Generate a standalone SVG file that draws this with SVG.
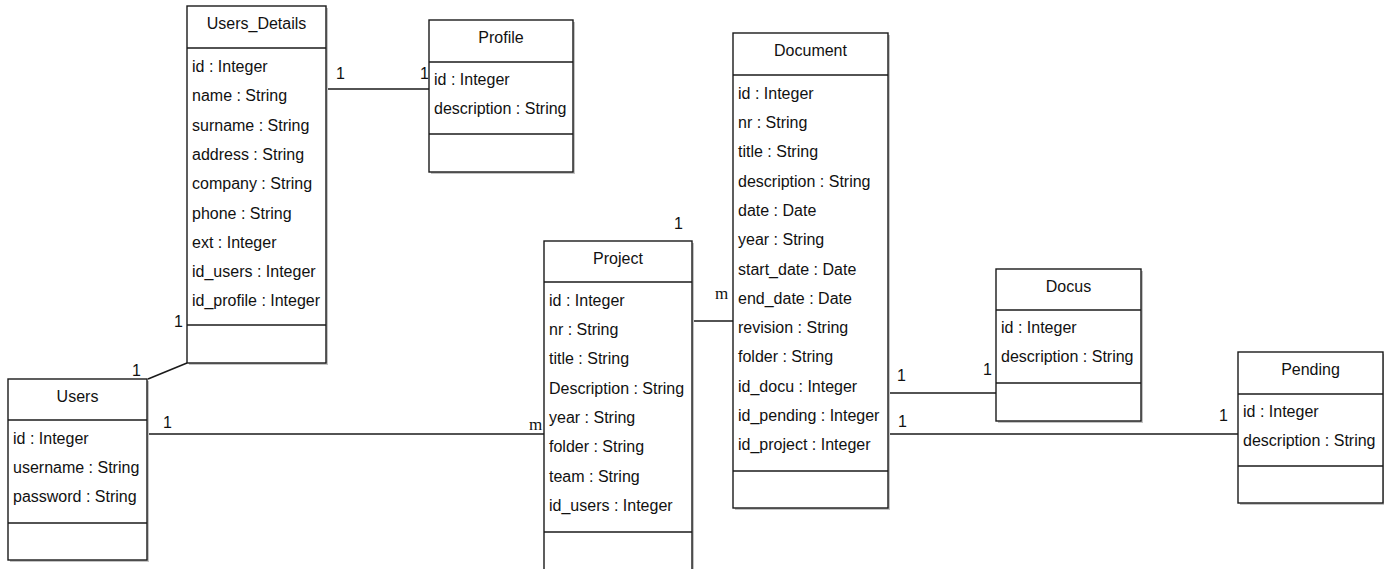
<svg xmlns="http://www.w3.org/2000/svg" width="1384" height="569" viewBox="0 0 1384 569">
  <style>
    .box { fill: #ffffff; stroke: #1a1a1a; stroke-width: 1.4; }
    .shadow { fill: #c4c4c4; }
    .sep { stroke: #1a1a1a; stroke-width: 1.4; }
    .edge { stroke: #1a1a1a; stroke-width: 1.4; fill: none; }
    text { font-family: "Liberation Sans", Arial, sans-serif; font-size: 16px; fill: #111111; }
    .title { text-anchor: middle; }
    .many { font-family: "Liberation Serif", "Times New Roman", serif; font-size: 17px; }
  </style>
  <rect width="1384" height="569" fill="#ffffff"/>

  <!-- associations -->
  <g id="connectors">
    <line class="edge" x1="326" y1="89" x2="429" y2="89"/>
    <line class="edge" x1="187" y1="363" x2="148" y2="379"/>
    <line class="edge" x1="147" y1="434" x2="544" y2="434"/>
    <line class="edge" x1="692" y1="321" x2="733" y2="321"/>
    <line class="edge" x1="888" y1="393" x2="996" y2="393"/>
    <line class="edge" x1="888" y1="434" x2="1238" y2="434"/>
    <!-- multiplicities -->
    <text x="336" y="79">1</text>
    <text x="420" y="79">1</text>
    <text x="174" y="327">1</text>
    <text x="132" y="376">1</text>
    <text x="163" y="428">1</text>
    <text class="many" x="529" y="430">m</text>
    <text x="674" y="229">1</text>
    <text class="many" x="715" y="299">m</text>
    <text x="897" y="381">1</text>
    <text x="983" y="375">1</text>
    <text x="898" y="427">1</text>
    <text x="1219" y="421">1</text>
  </g>

  <g id="Users_Details">
    <rect class="shadow" x="189" y="8" width="139" height="357"/>
    <rect class="box" x="187" y="6" width="139" height="357"/>
    <line class="sep" x1="187" y1="48" x2="326" y2="48"/>
    <line class="sep" x1="187" y1="325" x2="326" y2="325"/>
    <text class="title" x="256.5" y="29">Users_Details</text>
    <text x="192" y="72">id : Integer</text>
    <text x="192" y="101">name : String</text>
    <text x="192" y="131">surname : String</text>
    <text x="192" y="160">address : String</text>
    <text x="192" y="189">company : String</text>
    <text x="192" y="219">phone : String</text>
    <text x="192" y="248">ext : Integer</text>
    <text x="192" y="277">id_users : Integer</text>
    <text x="192" y="306">id_profile : Integer</text>
  </g>

  <g id="Profile">
    <rect class="shadow" x="431" y="22" width="144" height="152"/>
    <rect class="box" x="429" y="20" width="144" height="152"/>
    <line class="sep" x1="429" y1="62" x2="573" y2="62"/>
    <line class="sep" x1="429" y1="134" x2="573" y2="134"/>
    <text class="title" x="501" y="43">Profile</text>
    <text x="434" y="85">id : Integer</text>
    <text x="434" y="114">description : String</text>
  </g>

  <g id="Document">
    <rect class="shadow" x="735" y="35" width="155" height="475"/>
    <rect class="box" x="733" y="33" width="155" height="475"/>
    <line class="sep" x1="733" y1="75" x2="888" y2="75"/>
    <line class="sep" x1="733" y1="471" x2="888" y2="471"/>
    <text class="title" x="810.5" y="56">Document</text>
    <text x="738" y="99">id : Integer</text>
    <text x="738" y="128">nr : String</text>
    <text x="738" y="157">title : String</text>
    <text x="738" y="187">description : String</text>
    <text x="738" y="216">date : Date</text>
    <text x="738" y="245">year : String</text>
    <text x="738" y="275">start_date : Date</text>
    <text x="738" y="304">end_date : Date</text>
    <text x="738" y="333">revision : String</text>
    <text x="738" y="362">folder : String</text>
    <text x="738" y="392">id_docu : Integer</text>
    <text x="738" y="421">id_pending : Integer</text>
    <text x="738" y="450">id_project : Integer</text>
  </g>

  <g id="Project">
    <rect class="shadow" x="546" y="243" width="148" height="340"/>
    <rect class="box" x="544" y="241" width="148" height="340"/>
    <line class="sep" x1="544" y1="282" x2="692" y2="282"/>
    <line class="sep" x1="544" y1="532" x2="692" y2="532"/>
    <text class="title" x="618" y="264">Project</text>
    <text x="549" y="306">id : Integer</text>
    <text x="549" y="335">nr : String</text>
    <text x="549" y="364">title : String</text>
    <text x="549" y="394">Description : String</text>
    <text x="549" y="423">year : String</text>
    <text x="549" y="452">folder : String</text>
    <text x="549" y="482">team : String</text>
    <text x="549" y="511">id_users : Integer</text>
  </g>

  <g id="Users">
    <rect class="shadow" x="10" y="381" width="139" height="181"/>
    <rect class="box" x="8" y="379" width="139" height="181"/>
    <line class="sep" x1="8" y1="420" x2="147" y2="420"/>
    <line class="sep" x1="8" y1="523" x2="147" y2="523"/>
    <text class="title" x="77.5" y="402">Users</text>
    <text x="13" y="444">id : Integer</text>
    <text x="13" y="473">username : String</text>
    <text x="13" y="502">password : String</text>
  </g>

  <g id="Docus">
    <rect class="shadow" x="998" y="271" width="145" height="152"/>
    <rect class="box" x="996" y="269" width="145" height="152"/>
    <line class="sep" x1="996" y1="310" x2="1141" y2="310"/>
    <line class="sep" x1="996" y1="383" x2="1141" y2="383"/>
    <text class="title" x="1068.5" y="292">Docus</text>
    <text x="1001" y="333">id : Integer</text>
    <text x="1001" y="362">description : String</text>
  </g>

  <g id="Pending">
    <rect class="shadow" x="1240" y="354" width="145" height="151"/>
    <rect class="box" x="1238" y="352" width="145" height="151"/>
    <line class="sep" x1="1238" y1="394" x2="1383" y2="394"/>
    <line class="sep" x1="1238" y1="466" x2="1383" y2="466"/>
    <text class="title" x="1310.5" y="375">Pending</text>
    <text x="1243" y="417">id : Integer</text>
    <text x="1243" y="446">description : String</text>
  </g>
</svg>
